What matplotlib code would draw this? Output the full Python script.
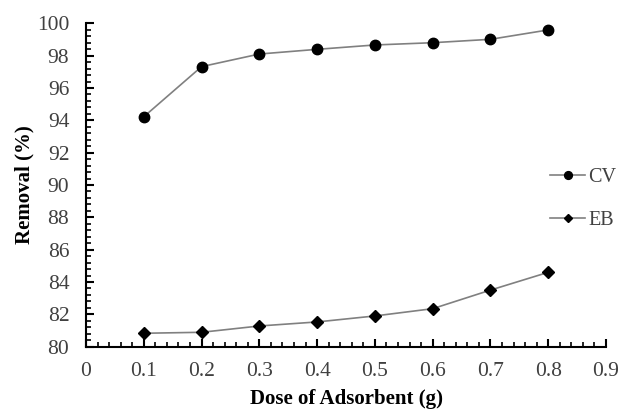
import matplotlib.pyplot as plt
from matplotlib.ticker import MultipleLocator

dose = [0.1, 0.2, 0.3, 0.4, 0.5, 0.6, 0.7, 0.8]
cv_removal = [94.22, 97.32, 98.1, 98.39, 98.66, 98.8, 99.01, 99.59]
eb_removal = [80.83, 80.89, 81.28, 81.53, 81.9, 82.35, 83.5, 84.6]

plt.rcParams['font.family'] = ['Liberation Serif', 'DejaVu Serif']

fig = plt.figure(figsize=(6.21, 4.11), dpi=100)
ax = fig.add_axes([0.1385, 0.1565, 0.8374, 0.7868])

ax.plot(dose, cv_removal, color='#808080', lw=1.2, marker='o', ms=7.5,
        mfc='black', mec='black', label='CV')
ax.plot(dose, eb_removal, color='#808080', lw=1.2, marker='D', ms=6,
        mfc='black', mec='black', label='EB')

ax.set_xlim(0, 0.9)
ax.set_ylim(80, 100)
ax.xaxis.set_major_locator(MultipleLocator(0.1))
ax.xaxis.set_minor_locator(MultipleLocator(0.02))
ax.yaxis.set_major_locator(MultipleLocator(2))
ax.yaxis.set_minor_locator(MultipleLocator(0.4))
ax.xaxis.set_major_formatter(plt.FuncFormatter(lambda v, p: '0' if abs(v) < 1e-9 else f'{v:.1f}'))

for s in ['top', 'right']:
    ax.spines[s].set_visible(False)
for s in ['left', 'bottom']:
    ax.spines[s].set_linewidth(1.5)

ax.tick_params(which='major', direction='in', length=6, width=1.5,
               labelsize=15.5, labelcolor='#404040')
ax.tick_params(which='minor', direction='in', length=3.5, width=1.2)
ax.tick_params(axis='x', which='major', pad=11)
ax.tick_params(axis='y', which='major', pad=12)

ax.set_xlabel('Dose of Adsorbent (g)', fontsize=15, fontweight='bold', labelpad=6)
ax.set_ylabel('Removal (%)', fontsize=15, fontweight='bold', labelpad=2)

ax.legend(loc='center left', bbox_to_anchor=(0.8857, 0.516),
          bbox_transform=fig.transFigure, borderaxespad=0, borderpad=0,
          frameon=False, fontsize=14.5, handlelength=1.75, handletextpad=0.15,
          labelspacing=1.2, markerscale=0.75, labelcolor='#404040')

fig.savefig('out.png', dpi=100)
